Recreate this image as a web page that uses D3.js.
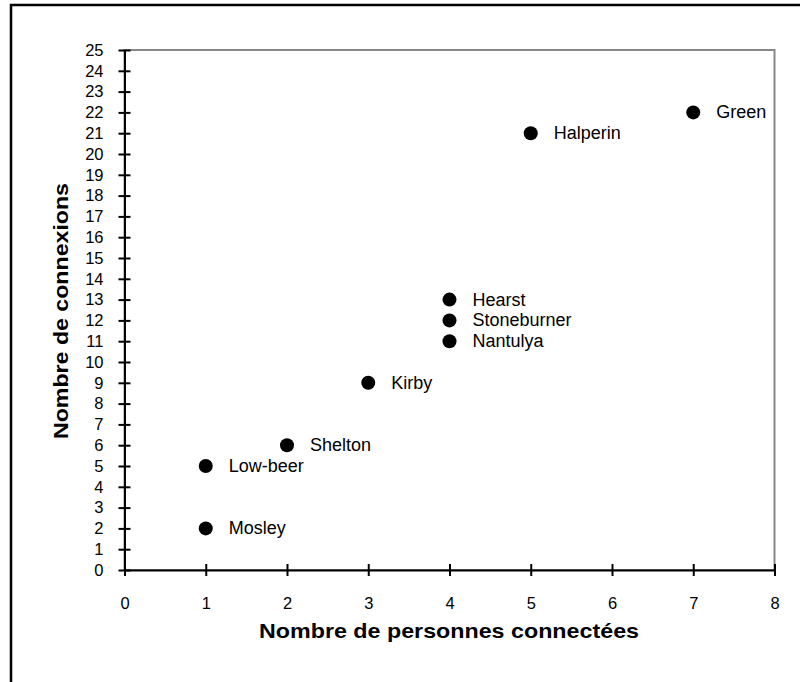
<!DOCTYPE html>
<html><head><meta charset="utf-8">
<script src="https://cdn.jsdelivr.net/npm/d3@7"></script>
<style>body{margin:0;background:#fff}svg{display:block}</style>
</head><body>
<svg id="c" width="800" height="682"></svg>
<script>
const names = ["Mosley","Low-beer","Shelton","Kirby","Nantulya","Stoneburner","Hearst","Halperin","Green"];
const persons = [1,1,2,3,4,4,4,5,7];
const connexions = [2,5,6,9,11,12,13,21,22];
const xTicks = [0,1,2,3,4,5,6,7,8];
const yTicks = d3.range(0,26);
const xTitle = "Nombre de personnes connectées";
const yTitle = "Nombre de connexions";

const svg = d3.select("#c");
const font = "'Liberation Sans', Arial, sans-serif";
// outer frame
svg.append("rect").attr("x",11).attr("y",5).attr("width",820).attr("height",720)
  .attr("fill","none").attr("stroke","#000").attr("stroke-width",2.5);

const x = d3.scaleLinear().domain([0,8]).range([124.5,774.5]);
const y = d3.scaleLinear().domain([0,25]).range([570,50]);

// plot area border
svg.append("rect").attr("x",x(0)).attr("y",y(25)).attr("width",x(8)-x(0)).attr("height",y(0)-y(25))
  .attr("fill","none").attr("stroke","#888").attr("stroke-width",2);

// y axis
const ya = svg.append("g").attr("transform",`translate(${x(0)},0)`)
  .call(d3.axisLeft(y).tickValues(yTicks).tickSize(0).tickPadding(21).tickFormat(d3.format("d")));
ya.select(".domain").attr("stroke","#000").attr("stroke-width",2);
ya.selectAll(".tick text").attr("font-family",font).attr("font-size",16.5).attr("fill","#000");
ya.selectAll(".tick").append("line").attr("x1",-6).attr("x2",6).attr("stroke","#000").attr("stroke-width",2);

// x axis
const xa = svg.append("g").attr("transform",`translate(0,${y(0)})`)
  .call(d3.axisBottom(x).tickValues(xTicks).tickSize(0).tickPadding(27).tickFormat(d3.format("d")));
xa.select(".domain").attr("stroke","#000").attr("stroke-width",2);
xa.selectAll(".tick text").attr("font-family",font).attr("font-size",16.5).attr("fill","#000");
xa.selectAll(".tick").append("line").attr("y1",-6).attr("y2",6).attr("stroke","#000").attr("stroke-width",2);

// titles
svg.append("text").attr("x",449).attr("y",638).attr("text-anchor","middle")
  .attr("font-family",font).attr("font-weight","bold").attr("font-size",21)
  .attr("textLength",380).attr("lengthAdjust","spacingAndGlyphs").text(xTitle);
svg.append("text").attr("transform","translate(68,311) rotate(-90)").attr("text-anchor","middle")
  .attr("font-family",font).attr("font-weight","bold").attr("font-size",21)
  .attr("textLength",256).attr("lengthAdjust","spacingAndGlyphs").text(yTitle);

// points
const data = names.map((n,i)=>({n, p:persons[i], c:connexions[i]}));
svg.append("g").selectAll("circle").data(data).join("circle")
  .attr("cx",d=>x(d.p)).attr("cy",d=>y(d.c)).attr("r",7).attr("fill","#000");
svg.append("g").selectAll("text").data(data).join("text")
  .attr("x",d=>x(d.p)+23).attr("y",d=>y(d.c)+6)
  .attr("font-family",font).attr("font-size",18).attr("fill","#000").text(d=>d.n);
</script>
</body></html>
